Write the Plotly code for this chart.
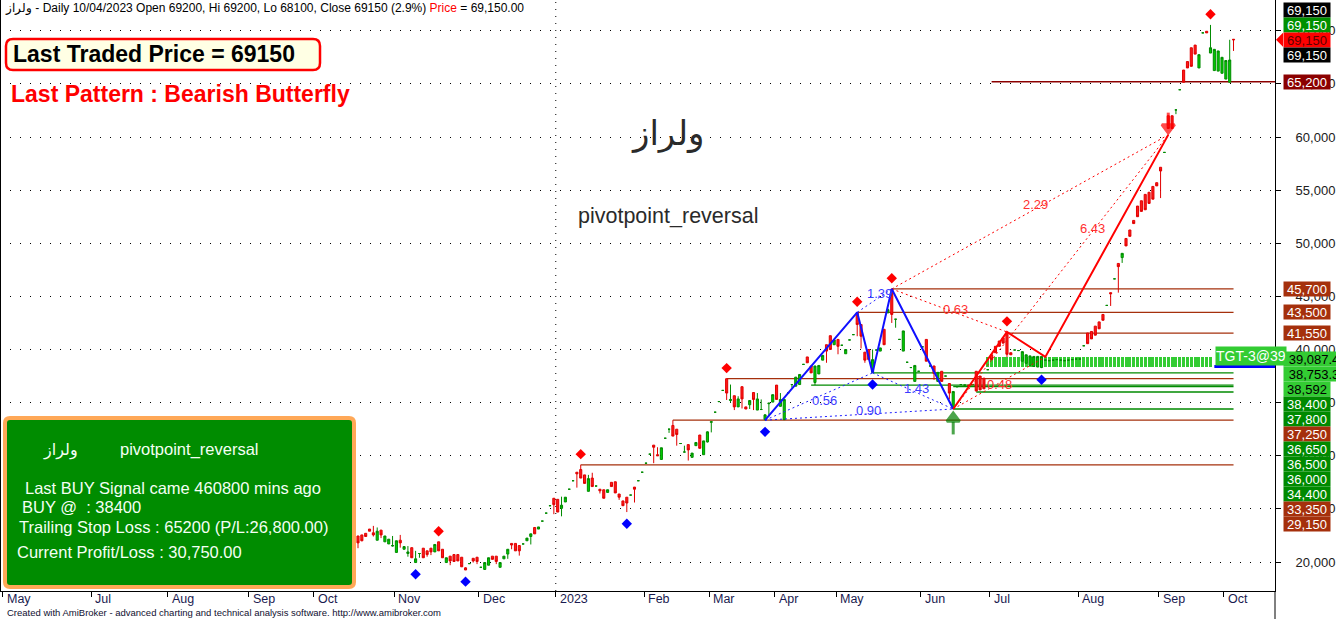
import plotly.graph_objects as go

# ---------------- data ----------------
opens = [22450, 22550, 22700, 23100, 22750, 22050, 23000, 21900, 21700, 21500,
         20900, 22050, 21200, 20800, 21350, 19950, 20800, 21300, 21050, 21300,
         20950, 21900, 21200, 19950, 20550, 20700, 20700, 20450, 19450, 19850,
         20350, 20450, 19500, 19300, 19700, 20550, 20550, 19500, 20300, 20750,
         21750, 21750, 21550, 21700, 22000, 22400, 23250, 23100, 23850, 24600,
         25300, 26000, 25900, 25050, 25650, 26850, 27650, 28450, 28700, 28200,
         26650, 27900, 27150, 26850, 26800, 26550, 27500, 27550, 26400, 25750,
         26100, 26300, 27050, 27650, 28450, 29300, 30150, 31000, 30100, 29650,
         31650, 32500, 32850, 32500, 31150, 30350, 31050, 29850, 30950, 31950,
         30100, 31300, 33150, 34100, 35100, 36150, 37250, 35200, 35650, 34600,
         36500, 34600, 34800, 35950, 34300, 34350, 33400, 34900, 35050, 36650,
         34650, 33400, 35900, 36700, 36550, 36700, 38600, 39300, 38450, 36900,
         37700, 39000, 40450, 41300, 40450, 40950, 40400, 39600, 40900, 41400,
         43450, 42350, 39750, 40000, 37850, 39950, 39850, 41900, 43450, 45650,
         42850, 40950, 39850, 38800, 38300, 37000, 37950, 40250, 40950, 38450,
         38450, 37000, 37950, 37500, 36800, 34500, 36500, 36700, 36650, 36650,
         36700, 37950, 37500, 37300, 38100, 39500, 40300, 40800, 41100, 41600,
         39700, 39950, 39900, 38900, 38700, 38500, 38400, 38350, 38300, 39000,
         38950, 39000, 39050, 39000, 38950, 39000, 39050, 39100, 39100, 40350,
         41550, 41700, 42200, 42600, 43300, 44150, 45350, 46650, 48100, 48650,
         50450, 51250, 52150, 53500, 54000, 54600, 54800, 55350, 55700, 57150,
         58550, 62000, 62000, 62550, 64450, 66300, 67100, 68400, 68650, 66500,
         69800, 69950, 67900, 66250, 66200, 66000, 65450, 65150, 69200]
highs = [22450, 22550, 22700, 23100, 23400, 23250, 23000, 22450, 22150, 22450,
         22000, 22550, 21500, 21500, 21350, 21050, 20800, 21300, 21050, 21300,
         21650, 21900, 21200, 20400, 20550, 20700, 20700, 20450, 19500, 19850,
         20350, 20450, 19500, 19950, 20400, 20550, 20550, 19950, 20550, 21200,
         21750, 21750, 21550, 21700, 22250, 22650, 23250, 23300, 23850, 24600,
         25300, 26000, 25900, 26150, 26100, 26850, 27650, 28450, 29150, 28200,
         28200, 28400, 27150, 26850, 26800, 26800, 27500, 27550, 26400, 25750,
         26100, 26300, 27050, 27650, 28450, 29300, 30150, 31000, 30800, 30750,
         31650, 32500, 33350, 32500, 31150, 30950, 31050, 30250, 31250, 31950,
         31400, 32300, 33200, 34100, 35100, 36150, 37250, 36700, 35650, 35600,
         36500, 34600, 35200, 35950, 35900, 35300, 33900, 34950, 35750, 36650,
         35900, 35300, 35900, 36700, 37400, 37650, 38600, 39300, 38450, 38450,
         38500, 39450, 40450, 41300, 40900, 40950, 40400, 40000, 40900, 41400,
         43500, 42350, 39750, 40000, 40000, 39950, 40150, 41900, 43850, 45700,
         42850, 40950, 41750, 38800, 38300, 38500, 37950, 40250, 40950, 38450,
         38450, 37850, 37950, 37500, 36800, 36050, 36500, 36700, 36650, 36650,
         36700, 37950, 37500, 37300, 38100, 39500, 40300, 40800, 41100, 41650,
         39700, 39950, 39900, 39800, 39500, 39400, 39350, 39350, 39350, 39000,
         38950, 39000, 39050, 39000, 38950, 39000, 39050, 39100, 39100, 40350,
         41550, 41700, 42200, 42600, 43300, 44150, 45350, 46650, 48100, 49050,
         50450, 51250, 52150, 53500, 54000, 54600, 54800, 55350, 55700, 57150,
         58550, 62000, 62000, 62550, 64450, 66300, 67100, 68400, 68650, 67750,
         69800, 69950, 70550, 68250, 68100, 67500, 67200, 69150, 69200]
lows = [21300, 21950, 22400, 22900, 22400, 22050, 22250, 21900, 21700, 21450,
        20900, 21350, 21200, 20500, 20400, 19950, 20400, 20400, 20500, 20650,
        20950, 21050, 20400, 19950, 19700, 20050, 20100, 19550, 19250, 19850,
        19950, 19800, 19500, 19300, 19700, 20250, 19800, 19500, 20300, 20300,
        21200, 21050, 20600, 21700, 22000, 21650, 22650, 23100, 23850, 24600,
        25300, 24500, 24700, 24300, 25650, 26850, 27650, 27000, 27900, 27400,
        26650, 27100, 27150, 26450, 26000, 26550, 27100, 26500, 25850, 25300,
        24700, 26300, 25600, 27650, 28450, 29300, 30150, 29300, 30000, 29650,
        31650, 32150, 31850, 30950, 31150, 30350, 29550, 29850, 30950, 30700,
        30100, 31250, 32200, 34100, 35100, 36150, 35250, 35000, 34300, 34600,
        34450, 34400, 34400, 34300, 34300, 34350, 33350, 33700, 35050, 35280,
        34650, 33400, 35900, 36400, 36550, 36700, 38600, 38750, 37800, 36650,
        37700, 39000, 38750, 40000, 40450, 39550, 40400, 39600, 40900, 41400,
        41250, 40100, 38750, 39050, 37800, 39950, 39850, 40450, 43450, 42500,
        42050, 40950, 39850, 38800, 38300, 37000, 37950, 40250, 38900, 38450,
        37150, 37000, 37000, 37500, 35300, 34400, 36500, 36700, 36650, 36550,
        36700, 36050, 36200, 36300, 38100, 39050, 39700, 40300, 40600, 39300,
        39500, 39950, 39900, 38900, 38700, 38500, 38400, 38350, 38250, 39000,
        38950, 39000, 39050, 39000, 38950, 39000, 39050, 39100, 39100, 40350,
        40550, 41000, 41350, 41950, 42750, 44150, 44100, 46650, 45350, 48150,
        49750, 50650, 51850, 52500, 53000, 53150, 53750, 54150, 55400, 54250,
        58550, 60800, 60800, 62150, 64450, 65150, 66500, 66650, 67800, 66500,
        69800, 69800, 67900, 66250, 66200, 66000, 65450, 65150, 68100]
closes = [21800, 22000, 22400, 22900, 22550, 22900, 22550, 22450, 22150, 21550,
          22000, 21800, 21450, 20950, 20400, 20300, 20800, 20400, 20700, 20950,
          21650, 21050, 20400, 20400, 20100, 20050, 20100, 19550, 19250, 19850,
          20100, 20050, 19500, 19950, 20400, 20250, 20050, 19950, 20550, 21200,
          21600, 21050, 21050, 21700, 22250, 22650, 22650, 23300, 23850, 24600,
          25300, 25400, 24700, 25350, 26100, 26850, 27650, 28300, 27900, 27400,
          27850, 27100, 27150, 26700, 26000, 26800, 27100, 26500, 26100, 25300,
          25550, 26300, 26850, 27650, 28450, 29300, 30150, 30800, 30000, 30750,
          31650, 32500, 31850, 32000, 31150, 30350, 30550, 30250, 31250, 30700,
          31400, 32250, 33200, 34100, 35100, 36150, 35900, 35300, 34600, 35350,
          35350, 34400, 35200, 35300, 35350, 34350, 33850, 34950, 35750, 35300,
          35300, 35300, 35900, 36700, 37400, 37650, 38600, 38750, 37800, 38450,
          38500, 39450, 39850, 40000, 40900, 40300, 40400, 40000, 40900, 41400,
          42350, 41250, 39000, 39050, 39050, 39950, 40150, 40450, 43750, 43300,
          42850, 40950, 41750, 38800, 38300, 38500, 37950, 40250, 38900, 38450,
          37750, 37850, 37000, 37500, 35900, 36050, 36500, 36700, 36650, 36600,
          36700, 36100, 36200, 36300, 38100, 39050, 39700, 40300, 40600, 39550,
          39500, 39950, 39900, 39800, 39500, 39400, 39350, 39350, 39350, 39000,
          38950, 39000, 39050, 39000, 38950, 39000, 39050, 39100, 39100, 40350,
          40550, 41000, 41350, 41950, 42750, 44150, 45250, 46650, 47800, 49050,
          49750, 50650, 51850, 52500, 53000, 53150, 53750, 54150, 55400, 56800,
          58550, 60800, 60800, 62550, 64450, 65150, 66500, 66650, 67800, 67750,
          69800, 69800, 68400, 68250, 68100, 67500, 67200, 67250, 69150]

month_labels = ["May", "Jul", "Aug", "Sep", "Oct", "Nov", "Dec", "2023", "Feb",
                "Mar", "Apr", "May", "Jun", "Jul", "Aug", "Sep", "Oct"]
month_first_bar = [-92, -69, -49, -28, -11, 10, 32, 52, 75, 92, 109, 125, 147,
                   165, 188, 209, 226]
year_first_bar = 52

pivot_high_bars = [21, 58, 96, 130, 139, 169, 222]
pivot_low_bars = [15, 28, 70, 106, 134, 178]
buy_bar = 155
sell_bar = 211

# harmonic patterns: X, A, B, C, D
blue_bars = [106, 130, 134, 139, 155]
blue_prices = [33350, 43500, 37800, 45700, 34400]
red_bars = [139, 155, 169, 179, 211]
red_prices = [45700, 34400, 41650, 39300, 60200]
blue_legs = [(0, 2, "0.56"), (1, 3, "1.39"), (2, 4, "1.43"), (0, 4, "0.90")]
red_legs = [(0, 2, "0.63"), (1, 3, "0.48"), (0, 4, "2.29"), (1, 4, "6.43")]

last_price = 69150
level_values = [65200, 45700, 43500, 41550, 39087.4, 38753.3, 38592, 38400,
                37800, 37250, 36650, 36500, 36000, 34400, 33350, 29150]
level_kinds = ["stop", "res", "res", "res", "tgt", "tgt", "tgt", "sup",
               "sup", "res", "sup", "sup", "sup", "sup", "res", "res"]
level_start_bar = [165, 139, 130, 169, None, None, None, 223,
                   134, 96, 118, 155, 161, 155, 82, 58]
target_bars = list(range(164, 223))
target_value = 39087.4

# ---------------- layout constants ----------------
W, H = 1336, 619
PLOT_W, PLOT_H = 1275, 591
Y0, Y1 = 17271, 72894
X0, X1 = -93.23, 238.8
PPU = PLOT_H / (Y1 - Y0)          # pixels per price unit
SLOT = 15 / PPU                   # label stacking step

G_LINE, G_FILL = "#008a00", "#00d000"
R_LINE, R_FILL = "#e00000", "#ff1a1a"
RES_C, SUP_C, STOP_C, TGT_C = "#a5300c", "#008a00", "#8b0000", "#33cc33"
FONT = "Liberation Sans, Arial, sans-serif"


def px(x):
    return x / PLOT_W


def py(y):
    return 1 - y / PLOT_H


def rrect(x0, y0, x1, y1, r):
    rx, ry = r / PLOT_W, r / PLOT_H
    a, b, c, d = px(x0), py(y0), px(x1), py(y1)
    return (f"M{a+rx},{b} L{c-rx},{b} Q{c},{b} {c},{b-ry} L{c},{d+ry} "
            f"Q{c},{d} {c-rx},{d} L{a+rx},{d} Q{a},{d} {a},{d+ry} "
            f"L{a},{b-ry} Q{a},{b} {a+rx},{b} Z")


fig = go.Figure()
annotations = []
shapes = []

# target band
fig.add_trace(go.Bar(x=target_bars, y=[850] * len(target_bars), base=38400,
                     width=0.78, marker=dict(color=TGT_C, line=dict(width=0)),
                     hoverinfo="skip"))

# candles
n = len(opens)
up = [i for i in range(n) if closes[i] >= opens[i]]
dn = [i for i in range(n) if closes[i] < opens[i]]
for ids, lc, fc in [(up, G_LINE, G_FILL), (dn, R_LINE, R_FILL)]:
    sty = dict(line=dict(color=lc, width=1), fillcolor=fc)
    fig.add_trace(go.Candlestick(
        x=ids, open=[opens[i] for i in ids], high=[highs[i] for i in ids],
        low=[lows[i] for i in ids], close=[closes[i] for i in ids],
        increasing=sty, decreasing=sty, whiskerwidth=0, hoverinfo="skip"))


# harmonic patterns
def pattern(bars, prices, legs, color, lab_color, fracs, shifts):
    for k, (i, j, label) in enumerate(legs):
        fig.add_trace(go.Scatter(x=[bars[i], bars[j]], y=[prices[i], prices[j]],
                                 mode="lines", line=dict(color=color, width=1, dash="2px,3px"),
                                 hoverinfo="skip"))
        f = fracs[k]
        annotations.append(dict(xref="x", yref="y", x=bars[i] + f * (bars[j] - bars[i]),
                                y=prices[i] + f * (prices[j] - prices[i]),
                                text=label, showarrow=False, yshift=shifts[k],
                                font=dict(size=13, color=lab_color, family=FONT)))


pattern(blue_bars, blue_prices, blue_legs, "#2020ff", "#3c3cff",
        [0.55, 0.65, 0.55, 0.55], [-6, 4, 4, 4])
pattern(red_bars, red_prices, red_legs, "#ff0000", "#ff3030",
        [0.55, 0.5, 0.52, 0.65], [3, -2, 4, 2])
fig.add_trace(go.Scatter(x=blue_bars, y=blue_prices, mode="lines",
                         line=dict(color="#1010ff", width=2), hoverinfo="skip"))
fig.add_trace(go.Scatter(x=red_bars[1:], y=red_prices[1:], mode="lines",
                         line=dict(color="#ff0000", width=2), hoverinfo="skip"))

# pivot markers
fig.add_trace(go.Scatter(x=pivot_high_bars, y=[highs[i] + 1000 for i in pivot_high_bars],
                         mode="markers", marker=dict(symbol="diamond", size=8, color="#ff0000"),
                         hoverinfo="skip"))
fig.add_trace(go.Scatter(x=pivot_low_bars, y=[lows[i] - 1100 for i in pivot_low_bars],
                         mode="markers", marker=dict(symbol="diamond", size=8, color="#0000ff"),
                         hoverinfo="skip"))
# buy / sell arrows
fig.add_trace(go.Scatter(x=[buy_bar, buy_bar], y=[lows[buy_bar] - 900, lows[buy_bar] - 1800],
                         mode="markers", marker=dict(symbol=["triangle-up", "line-ns"], size=[11, 9],
                                                     color="#008000",
                                                     line=dict(color="#008000", width=3)),
                         hoverinfo="skip"))
fig.add_trace(go.Scatter(x=[sell_bar, sell_bar], y=[highs[sell_bar] - 1100, highs[sell_bar] - 300],
                         mode="markers", marker=dict(symbol=["triangle-down", "line-ns"], size=[11, 9],
                                                     color="#ff0000",
                                                     line=dict(color="#ff0000", width=3)),
                         hoverinfo="skip"))

# level lines
kind_color = {"res": RES_C, "sup": SUP_C, "stop": STOP_C, "tgt": TGT_C}
for v, k, s in zip(level_values, level_kinds, level_start_bar):
    if s is None:
        continue
    end = X1 if k == "stop" else n - 1
    col = kind_color[k]
    wdt = 1.3
    if v == 38400:
        col, wdt, end = "#0000ff", 3, X1
    shapes.append(dict(type="line", xref="x", yref="y", x0=s, x1=end, y0=v, y1=v,
                       line=dict(color=col, width=wdt), layer="below"))

# year separator
shapes.append(dict(type="line", xref="x", yref="paper", x0=year_first_bar - 0.5,
                   x1=year_first_bar - 0.5, y0=0, y1=1,
                   line=dict(color="black", width=1, dash="1px,6px"), layer="below"))
# frame lines
shapes.append(dict(type="line", xref="paper", yref="paper", x0=0.0004, x1=0.0004, y0=0, y1=1,
                   line=dict(color="black", width=1)))
shapes.append(dict(type="line", xref="paper", yref="paper", x0=1, x1=1, y0=0,
                   y1=py(H), line=dict(color="black", width=1)))
# info boxes
shapes.append(dict(type="path", xref="paper", yref="paper", path=rrect(6, 39, 320, 70, 7),
                   fillcolor="#ffffe4", line=dict(color="#ff0000", width=2.5), layer="above"))
shapes.append(dict(type="path", xref="paper", yref="paper", path=rrect(5, 418, 354, 587, 5),
                   fillcolor="#008c00", line=dict(color="#ffa857", width=4), layer="above"))

# right-side value labels
label_bg = {"res": (RES_C, "white"), "sup": ("#008a00", "white"),
            "stop": (STOP_C, "white"), "tgt": (TGT_C, "black")}


def value_label(val, ypos, bg, fg):
    t = f"{val:,.0f}" if float(val).is_integer() else f"{val:,.1f}"
    annotations.append(dict(xref="paper", yref="y", x=1283 / PLOT_W, y=ypos, xanchor="left",
                            yanchor="middle", text=t, showarrow=False, bgcolor=bg,
                            width=7 * len(t) + 4, height=14, borderpad=0,
                            font=dict(size=13, color=fg, family=FONT)))


price_styles = [("black", "white"), ("#009000", "white"), ("#ff0000", "#600000"), ("black", "white")]
price_slots = [2, 1, 0, -1]
for (bg, fg), s in zip(price_styles, price_slots):
    value_label(last_price, last_price + s * SLOT, bg, fg)
shapes.append(dict(type="path", xref="paper", yref="y",
                   path=f"M{px(1276)},{last_price} L{px(1283)},{last_price + 7 / PPU} "
                        f"L{px(1283)},{last_price - 7 / PPU} Z",
                   fillcolor="#ff0000", line=dict(width=0)))
prev = last_price - SLOT
for v, k in zip(level_values, level_kinds):
    pos = min(v, prev - SLOT)
    bg, fg = label_bg[k]
    value_label(v, pos, bg, fg)
    prev = pos

# target tag
annotations.append(dict(xref="x", yref="y", x=223.2, y=target_value, xanchor="left",
                        yanchor="middle", yshift=3, text="TGT-3@39", showarrow=False,
                        bgcolor=TGT_C, height=18, borderpad=0,
                        font=dict(size=14, color="white", family=FONT)))

# month labels
for lab, b in zip(month_labels, month_first_bar):
    annotations.append(dict(x=b - 0.5, xref="x", yref="paper", y=py(599), xanchor="left",
                            yanchor="middle", xshift=2, text=lab, showarrow=False,
                            font=dict(size=12.5, color="#1a1a50", family=FONT)))


def txt(x, y, s, size, color, anchor="left", bold=False, family=FONT):
    if bold:
        s = f"<b>{s}</b>"
    annotations.append(dict(xref="paper", yref="paper", x=px(x), y=py(y), xanchor=anchor,
                            yanchor="middle", text=s, showarrow=False,
                            font=dict(size=size, color=color, family=family)))


txt(3, 8, 'ولراز - Daily 10/04/2023 Open 69200, Hi 69200, Lo 68100, Close 69150 (2.9%) '
    '<span style="color:#ff0000">Price</span> = 69,150.00', 12, "black")
txt(11, 54, "Last Traded Price = 69150", 23, "black", bold=True)
txt(9, 94, "Last Pattern : Bearish Butterfly", 23, "#ff0000", bold=True)
txt(667, 134, "ولراز", 34, "#2a2a2a", anchor="center", family="DejaVu Sans, sans-serif")
txt(668, 216, "pivotpoint_reversal", 21.5, "#2a2a2a", anchor="center")
BOX_TXT = "#f4fff4"
txt(60, 450, "ولراز", 16, BOX_TXT, anchor="center", family="DejaVu Sans, sans-serif")
txt(118, 450, "pivotpoint_reversal", 16.5, BOX_TXT)
txt(23, 488, "Last BUY Signal came 460800 mins ago", 16.5, BOX_TXT)
txt(20, 507, "BUY @&nbsp; : 38400", 16.5, BOX_TXT)
txt(17, 527, "Trailing Stop Loss : 65200 (P/L:26,800.00)", 16.5, BOX_TXT)
txt(15, 552, "Current Profit/Loss : 30,750.00", 16.5, BOX_TXT)
txt(5, 612, "Created with AmiBroker - advanced charting and technical analysis software. "
    "http://www.amibroker.com", 9.5, "#101030")

fig.update_layout(
    width=W, height=H,
    margin=dict(l=0, r=W - PLOT_W, t=0, b=H - PLOT_H, autoexpand=False),
    paper_bgcolor="white", plot_bgcolor="white", showlegend=False,
    boxgap=0.22, bargap=0, shapes=shapes, annotations=annotations,
    font=dict(family=FONT),
    xaxis=dict(range=[X0, X1], showgrid=False, zeroline=False, showline=True,
               linecolor="black", linewidth=1, ticks="outside", ticklen=5,
               tickcolor="black", tickvals=[b - 0.5 for b in month_first_bar],
               showticklabels=False, rangeslider=dict(visible=False), fixedrange=True,
               automargin=False),
    yaxis=dict(range=[Y0, Y1], side="right", showgrid=True, gridcolor="black",
               griddash="1px,9px", gridwidth=1, zeroline=False, showline=True,
               linecolor="black", linewidth=1, ticks="outside", ticklen=5,
               tickcolor="black", tickvals=list(range(20000, 70001, 5000)),
               tickformat=",d", ticklabelstandoff=12, automargin=False,
               tickfont=dict(size=13, color="#202020", family=FONT), fixedrange=True),
)

fig.write_html("out.html", config={"displayModeBar": False},
               post_script="document.body.style.margin='0';"
                           "document.body.style.overflow='hidden';")
